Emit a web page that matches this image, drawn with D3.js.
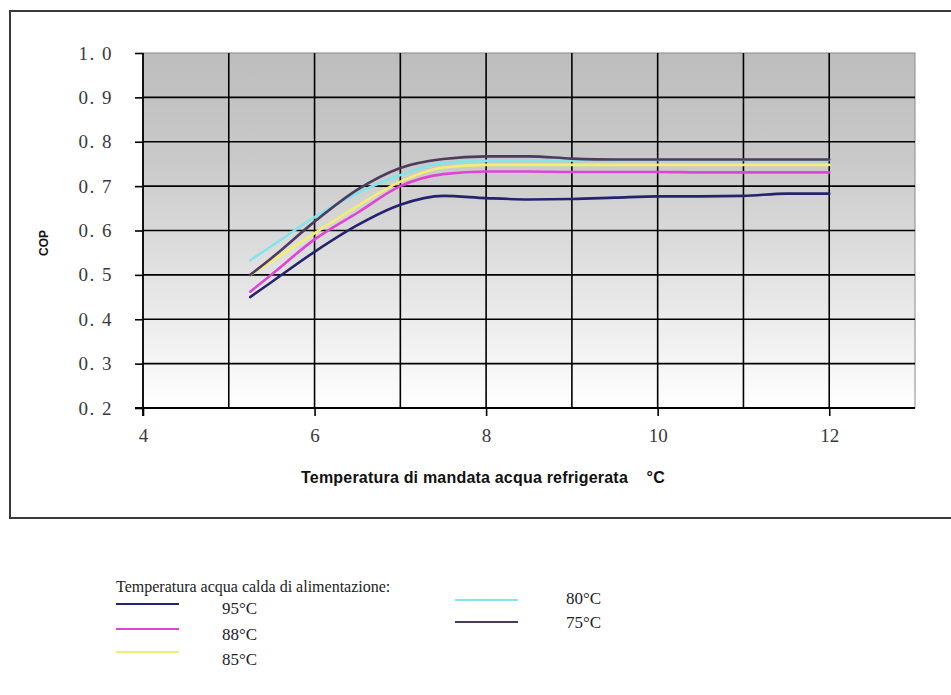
<!DOCTYPE html>
<html>
<head>
<meta charset="utf-8">
<script src="https://cdn.jsdelivr.net/npm/d3@7"></script>
<style>
  html, body { margin: 0; padding: 0; background: #fff; }
  svg { display: block; }
</style>
</head>
<body>
<svg id="chart" width="951" height="695"></svg>
<script>
// Chilled-water outlet temperature (°C)
const tempX = [5.25, 5.5, 6, 6.5, 7, 7.5, 8, 8.5, 9, 9.5, 10, 10.5, 11, 11.5, 12];

// COP for each hot-water supply temperature
const cop95 = [0.450, 0.484, 0.552, 0.612, 0.658, 0.678, 0.673, 0.670, 0.671, 0.674, 0.677, 0.677, 0.678, 0.683, 0.683];
const cop88 = [0.462, 0.501, 0.580, 0.640, 0.700, 0.727, 0.733, 0.733, 0.732, 0.732, 0.732, 0.731, 0.731, 0.731, 0.731];
const cop85 = [0.500, 0.531, 0.594, 0.655, 0.710, 0.742, 0.748, 0.748, 0.748, 0.748, 0.748, 0.748, 0.748, 0.748, 0.748];
const cop80 = [0.533, 0.565, 0.630, 0.684, 0.725, 0.752, 0.757, 0.758, 0.758, 0.759, 0.759, 0.759, 0.759, 0.759, 0.759];
const cop75 = [0.500, 0.538, 0.620, 0.692, 0.741, 0.761, 0.767, 0.767, 0.762, 0.760, 0.760, 0.760, 0.760, 0.760, 0.760];

const seriesNames  = ["95°C", "88°C", "85°C", "80°C", "75°C"];
const seriesValues = [cop95, cop88, cop85, cop80, cop75];
const seriesColors = ["#24246e", "#e044d6", "#f3ee72", "#80e6ea", "#4e3a5c"];

const xTicks = [4, 6, 8, 10, 12];
const xGrid  = [5, 6, 7, 8, 9, 10, 11, 12];
const yTicks = [0.2, 0.3, 0.4, 0.5, 0.6, 0.7, 0.8, 0.9, 1.0];

const xTitle = "Temperatura di mandata acqua refrigerata    °C";
const yTitle = "COP";
const legendTitle = "Temperatura acqua calda di alimentazione:";

// ---- layout ----
const svg = d3.select("#chart");
const plot = { left: 143, top: 53, right: 915, bottom: 408 };

const x = d3.scaleLinear().domain([4, 13]).range([plot.left, plot.right]);
const y = d3.scaleLinear().domain([0.2, 1.0]).range([plot.bottom, plot.top]);

// outer frame
svg.append("rect")
  .attr("x", 10).attr("y", 11).attr("width", 950).attr("height", 507)
  .attr("fill", "none").attr("stroke", "#3a3a3a").attr("stroke-width", 2);

// plot background: grey fading to white
const defs = svg.append("defs");
const grad = defs.append("linearGradient")
  .attr("id", "plotBg").attr("x1", 0).attr("y1", 0).attr("x2", 0).attr("y2", 1);
grad.append("stop").attr("offset", "0%").attr("stop-color", "#bdbdbd");
grad.append("stop").attr("offset", "30%").attr("stop-color", "#c9c9c9");
grad.append("stop").attr("offset", "100%").attr("stop-color", "#ffffff");

svg.append("rect")
  .attr("x", plot.left).attr("y", plot.top)
  .attr("width", plot.right - plot.left).attr("height", plot.bottom - plot.top)
  .attr("fill", "url(#plotBg)")
  .attr("stroke", "#8a8a8a").attr("stroke-width", 1);

// grid lines
const grid = svg.append("g").attr("stroke", "#000").attr("stroke-width", 1.6);
grid.selectAll("line.h")
  .data(yTicks.filter(v => v > 0.2 && v < 1.0))
  .join("line").attr("class", "h")
  .attr("x1", plot.left).attr("x2", plot.right)
  .attr("y1", d => y(d)).attr("y2", d => y(d));
grid.selectAll("line.v")
  .data(xGrid)
  .join("line").attr("class", "v")
  .attr("x1", d => x(d)).attr("x2", d => x(d))
  .attr("y1", plot.top).attr("y2", plot.bottom);

// axes
const fmtY = d => d3.format(".1f")(d).replace(".", ". ");
const yAxis = svg.append("g")
  .attr("transform", `translate(${plot.left},0)`)
  .call(d3.axisLeft(y).tickValues(yTicks).tickFormat(fmtY).tickSize(8).tickPadding(22));
const xAxis = svg.append("g")
  .attr("transform", `translate(0,${plot.bottom})`)
  .call(d3.axisBottom(x).tickValues(xTicks).tickFormat(d3.format("d")).tickSize(8).tickPadding(13));

[yAxis, xAxis].forEach(g => {
  g.select(".domain").remove();
  g.selectAll(".tick line").attr("stroke", "#000").attr("stroke-width", 1.6);
  g.selectAll(".tick text")
    .attr("fill", "#3a3a3a")
    .style("font-family", "'Liberation Serif', 'DejaVu Serif', serif")
    .style("font-size", "19px");
});
yAxis.selectAll(".tick text").style("letter-spacing", "1.5px");

// axis lines
svg.append("line")
  .attr("x1", plot.left).attr("x2", plot.left)
  .attr("y1", plot.top).attr("y2", plot.bottom + 8)
  .attr("stroke", "#000").attr("stroke-width", 1.8);
svg.append("line")
  .attr("x1", plot.left - 8).attr("x2", plot.right)
  .attr("y1", plot.bottom).attr("y2", plot.bottom)
  .attr("stroke", "#000").attr("stroke-width", 1.8);

// axis titles
svg.append("text")
  .attr("x", 483).attr("y", 483)
  .attr("text-anchor", "middle")
  .attr("fill", "#111")
  .style("font-family", "'Liberation Sans Narrow', 'Liberation Sans', Arial, sans-serif")
  .style("font-weight", "bold").style("font-size", "16px")
  .style("letter-spacing", "0.2px")
  .style("white-space", "pre")
  .text(xTitle);

svg.append("text")
  .attr("transform", "translate(48,243) rotate(-90)")
  .attr("text-anchor", "middle")
  .attr("fill", "#111")
  .style("font-family", "'Liberation Sans', Arial, sans-serif")
  .style("font-weight", "bold").style("font-size", "12px")
  .text(yTitle);

// curves
const line = d3.line()
  .x((d, i) => x(tempX[i]))
  .y(d => y(d))
  .curve(d3.curveMonotoneX);

const drawOrder = [3, 2, 1, 0, 4];
svg.append("g").selectAll("path")
  .data(drawOrder)
  .join("path")
  .attr("d", i => line(seriesValues[i]))
  .attr("fill", "none")
  .attr("stroke", i => seriesColors[i])
  .attr("stroke-width", 2.6)
  .attr("stroke-linejoin", "round")
  .attr("stroke-linecap", "round");

// legend
const legend = svg.append("g")
  .style("font-family", "'Liberation Serif', 'Times New Roman', serif")
  .attr("fill", "#222");

legend.append("text")
  .attr("x", 116).attr("y", 592)
  .style("font-size", "16px")
  .text(legendTitle);

const legendPos = [
  { lx: 116, ly: 604, tx: 222, ty: 614 },
  { lx: 116, ly: 629, tx: 222, ty: 640 },
  { lx: 116, ly: 652, tx: 222, ty: 665 },
  { lx: 455, ly: 600, tx: 566, ty: 604 },
  { lx: 455, ly: 622, tx: 566, ty: 628 }
];

const items = legend.selectAll("g.item")
  .data(seriesNames.map((name, i) => ({ name, i })))
  .join("g").attr("class", "item");
items.append("line")
  .attr("x1", d => legendPos[d.i].lx).attr("x2", d => legendPos[d.i].lx + 63)
  .attr("y1", d => legendPos[d.i].ly).attr("y2", d => legendPos[d.i].ly)
  .attr("stroke", d => seriesColors[d.i]).attr("stroke-width", 2);
items.append("text")
  .attr("x", d => legendPos[d.i].tx).attr("y", d => legendPos[d.i].ty)
  .style("font-size", "17px")
  .text(d => d.name);
</script>
</body>
</html>
